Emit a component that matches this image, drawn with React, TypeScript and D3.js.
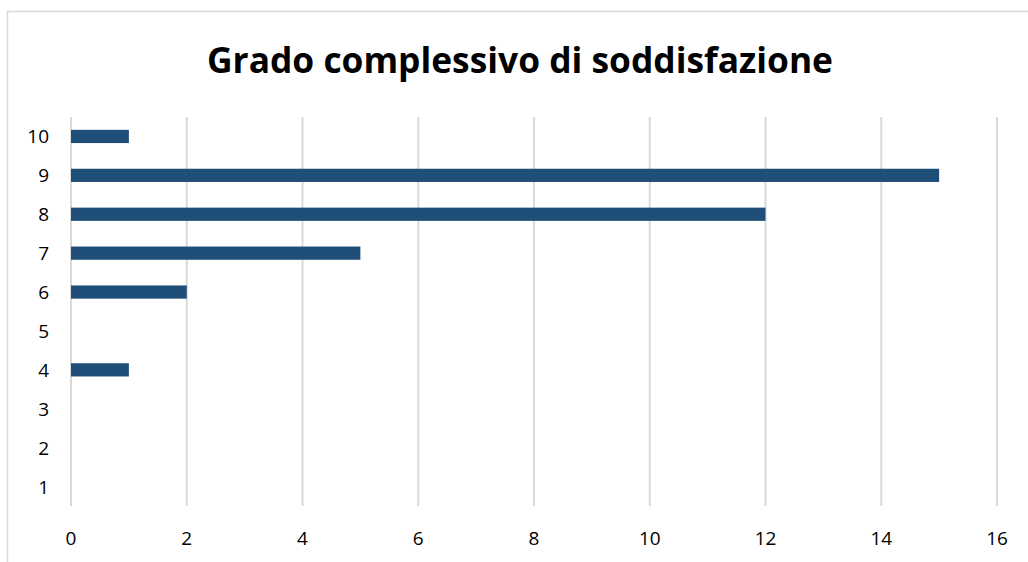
import React from "react";
import { scaleLinear, scaleBand } from "d3";

const title = "Grado complessivo di soddisfazione";
const categories = ["1", "2", "3", "4", "5", "6", "7", "8", "9", "10"];
const counts = [0, 0, 0, 1, 0, 2, 5, 12, 15, 1];
const xTicks = [0, 2, 4, 6, 8, 10, 12, 14, 16];

const W = 1028;
const H = 562;
const left = 71;
const right = 997;
const top = 117;
const bottom = 506;

function App() {
  const x = scaleLinear().domain([0, 16]).range([left, right]);
  const y = scaleBand().domain([...categories].reverse()).range([top, bottom]).paddingInner(0.66).paddingOuter(0.33);
  const font = "'Open Sans', 'Liberation Sans', sans-serif";

  return (
    <svg width={W} height={H} style={{ position: "absolute", left: 0, top: 0, background: "#fff" }}>
      <rect x={7.5} y={11.5} width={W + 10} height={H + 10} fill="#fff" stroke="#d9d9d9" strokeWidth={1.5} />
      <text
        x={520}
        y={73}
        textAnchor="middle"
        fontFamily={font}
        fontWeight="bold"
        fontSize={35}
        textLength={626}
        lengthAdjust="spacingAndGlyphs"
        fill="#000"
      >
        {title}
      </text>
      {xTicks.map((t) => (
        <g key={t}>
          <line x1={x(t)} x2={x(t)} y1={top} y2={bottom} stroke="#d9d9d9" strokeWidth={2} />
          <text x={x(t)} y={545} textAnchor="middle" fontFamily={font} fontSize={19} fill="#000">
            {t}
          </text>
        </g>
      ))}
      {categories.map((c, i) => (
        <g key={c}>
          <text
            x={49}
            y={(y(c) ?? 0) + y.bandwidth() / 2 + 7}
            textAnchor="end"
            fontFamily={font}
            fontSize={19}
            fill="#000"
          >
            {c}
          </text>
          {counts[i] > 0 && (
            <rect
              x={x(0)}
              y={y(c)}
              width={x(counts[i]) - x(0)}
              height={y.bandwidth()}
              fill="#1f4e79"
            />
          )}
        </g>
      ))}
    </svg>
  );
}

export default App;
